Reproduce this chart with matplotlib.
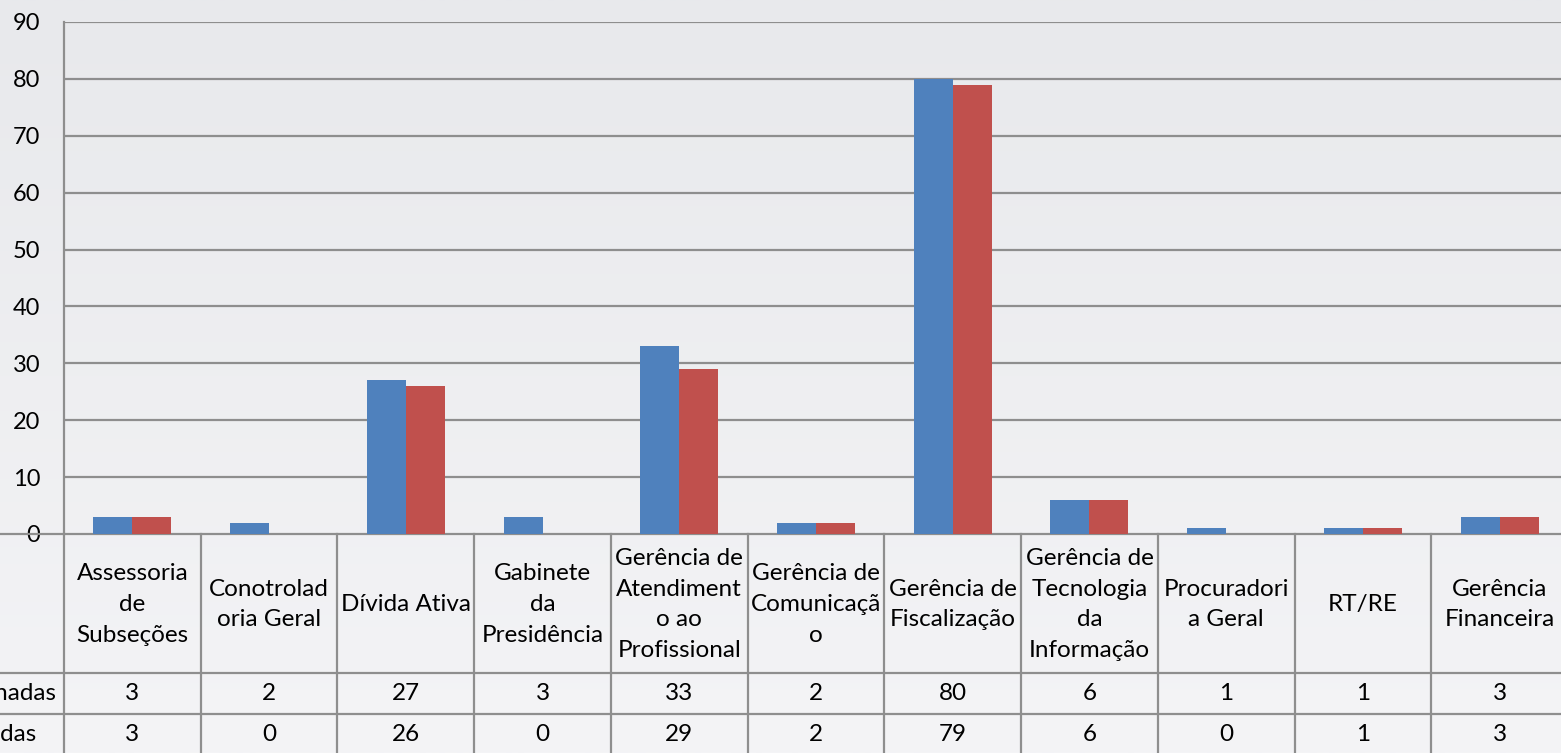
import matplotlib
matplotlib.use("Agg")
import matplotlib.pyplot as plt
import numpy as np

categories = ["Assessoria\nde\nSubseções", "Conotrolad\noria Geral", "Dívida Ativa",
              "Gabinete\nda\nPresidência", "Gerência de\nAtendiment\no ao\nProfissional",
              "Gerência de\nComunicaçã\no", "Gerência de\nFiscalização",
              "Gerência de\nTecnologia\nda\nInformação", "Procuradori\na Geral", "RT/RE",
              "Gerência\nFinanceira"]
series_names = ["Demandas Encaminhadas", "Demandas Respondidas"]
encaminhadas = [3, 2, 27, 3, 33, 2, 80, 6, 1, 1, 3]
respondidas = [3, 0, 26, 0, 29, 2, 79, 6, 0, 1, 3]
yticks = [0, 10, 20, 30, 40, 50, 60, 70, 80, 90]

plt.rcParams['font.family'] = ['Lato', 'DejaVu Sans']
W, H = 1561, 753
fig = plt.figure(figsize=(W / 100, H / 100), dpi=100)

# background gradient
bg = fig.add_axes([0, 0, 1, 1], zorder=-10)
grad = np.linspace(0, 1, 256).reshape(-1, 1)
c_top = np.array([0xE8, 0xE9, 0xEC]) / 255
c_bot = np.array([0xF4, 0xF4, 0xF6]) / 255
img = c_top[None, None, :] * (1 - grad[:, :, None]) + c_bot[None, None, :] * grad[:, :, None]
bg.imshow(img, aspect='auto', extent=[0, 1, 0, 1], origin='upper')
bg.axis('off')

left_px, right_px, top_px, zero_px = 64, 1568, 22, 534
ax = fig.add_axes([left_px / W, (H - zero_px) / H, (right_px - left_px) / W, (zero_px - top_px) / H])
ax.set_facecolor('none')
n = len(categories)
x = np.arange(n) + 0.5
w = 0.285
ax.bar(x - w / 2, encaminhadas, width=w, color='#4F81BD', zorder=3)
ax.bar(x + w / 2, respondidas, width=w, color='#C0504D', zorder=3)
ax.set_xlim(0, n)
ax.set_ylim(0, 90)
ax.set_yticks(yticks)
ax.set_xticks([])
grid_c = '#8E8E8E'
for t in yticks[1:]:
    ax.axhline(t, color=grid_c, lw=1.6, zorder=1)
for s in ['top', 'right', 'bottom']:
    ax.spines[s].set_visible(False)
ax.spines['left'].set_color(grid_c)
ax.spines['left'].set_linewidth(1.6)
ax.tick_params(axis='y', length=0, pad=17, labelsize=17, labelcolor='black')

# data table
px = 512.0
def yax(p):
    return (zero_px - p) / px
tr = ax.get_xaxis_transform()
row_edges = [zero_px, 673, 714, 755]
for p in row_edges:
    ax.plot([-2, n], [yax(p), yax(p)], transform=tr, color=grid_c, lw=1.6, clip_on=False)
for i in range(n + 1):
    ax.plot([i, i], [yax(zero_px), yax(760)], transform=tr, color=grid_c, lw=1.6, clip_on=False)

fs = 17.5
for i, lab in enumerate(categories):
    ax.text(x[i], yax((zero_px + 673) / 2 + 1), lab, transform=tr, ha='center', va='center',
            fontsize=fs, linespacing=1.58, clip_on=False)
    ax.text(x[i], yax((673 + 714) / 2), str(encaminhadas[i]), transform=tr, ha='center',
            va='center', fontsize=fs, clip_on=False)
    ax.text(x[i], yax((714 + 755) / 2), str(respondidas[i]), transform=tr, ha='center',
            va='center', fontsize=fs, clip_on=False)

fig.text(56 / W, 1 - 693.5 / H, series_names[0], ha='right', va='center', fontsize=fs)
fig.text(36 / W, 1 - 734.5 / H, series_names[1], ha='right', va='center', fontsize=fs)

fig.savefig('out.png', dpi=100)
